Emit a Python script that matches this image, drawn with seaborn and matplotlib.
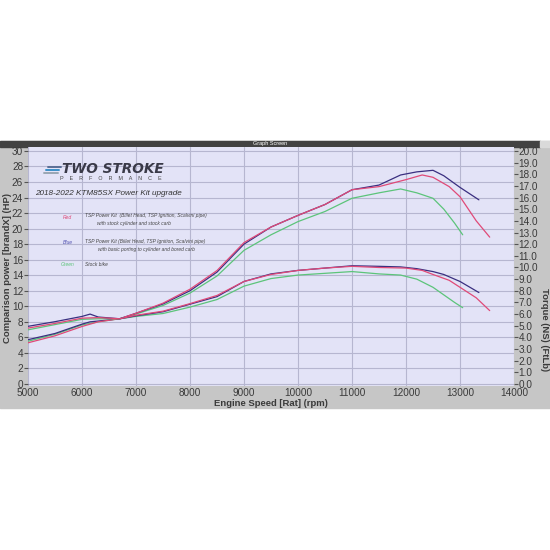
import numpy as np
import pandas as pd
import matplotlib
matplotlib.use('Agg')
import matplotlib.pyplot as plt
import seaborn as sns
from matplotlib.patches import Rectangle
from matplotlib.lines import Line2D
from matplotlib.ticker import FormatStrFormatter

# Dyno runs (power in HP, torque in ft-lb)
RPM_RED = [5000, 5500, 6000, 6300, 6700, 7000, 7500, 8000, 8500, 9000, 9500,
           10000, 10500, 11000, 11500, 12000, 12300, 12500, 12800, 13000, 13300, 13550]
HP_RED = [5.3, 6.2, 7.4, 8.0, 8.4, 9.1, 10.4, 12.2, 14.6, 18.2, 20.2,
          21.7, 23.1, 25.0, 25.4, 26.3, 26.9, 26.6, 25.4, 24.1, 21.0, 18.9]
TQ_RED = [4.8, 5.2, 5.65, 5.7, 5.6, 5.9, 6.25, 6.9, 7.6, 8.8, 9.4,
          9.75, 9.95, 10.1, 10.0, 9.95, 9.75, 9.4, 8.9, 8.3, 7.4, 6.3]

RPM_BLUE = [5000, 5500, 6000, 6150, 6300, 6700, 7000, 7500, 8000, 8500, 9000,
            9500, 10000, 10500, 11000, 11500, 11900, 12200, 12500, 12700, 13000, 13350]
HP_BLUE = [5.7, 6.5, 7.7, 8.0, 8.1, 8.4, 9.1, 10.3, 12.0, 14.4, 18.0,
           20.2, 21.7, 23.1, 25.0, 25.6, 26.9, 27.3, 27.5, 26.8, 25.3, 23.7]
TQ_BLUE = [4.95, 5.35, 5.8, 6.0, 5.75, 5.6, 5.85, 6.2, 6.85, 7.5, 8.8,
           9.45, 9.75, 9.95, 10.15, 10.1, 10.05, 9.9, 9.65, 9.4, 8.8, 7.85]

RPM_GREEN = [5000, 5500, 6000, 6300, 6700, 7000, 7500, 8000, 8500, 9000, 9500,
             10000, 10500, 11000, 11500, 11900, 12200, 12500, 12700, 12900, 13050]
HP_GREEN = [5.5, 6.4, 7.6, 8.0, 8.4, 9.0, 10.1, 11.7, 13.9, 17.2, 19.2,
            20.9, 22.2, 23.9, 24.6, 25.1, 24.6, 23.9, 22.5, 20.7, 19.2]
TQ_GREEN = [4.65, 5.1, 5.55, 5.6, 5.6, 5.8, 6.05, 6.6, 7.25, 8.4, 9.05,
            9.35, 9.5, 9.65, 9.45, 9.35, 9.0, 8.3, 7.65, 7.0, 6.55]

X_TICKS = list(range(5000, 14001, 1000))
HP_TICKS = list(range(0, 31, 2))
TQ_TICKS = list(np.arange(0, 20.1, 1.0))

COLORS = {'red': '#E04A78', 'blue': '#3A2F80', 'green': '#5CC47A'}

sns.set_style('white')
plt.rcParams['font.family'] = ['Liberation Sans', 'DejaVu Sans']

W = H = 550
fig = plt.figure(figsize=(5.5, 5.5), dpi=100)
fig.patch.set_facecolor('white')


def fx(px):
    return px / W


def fy(py):
    return 1 - py / H


# gray window panel and the title bar (behind the axes)
fig.patches.append(Rectangle((0, fy(408)), 1, fy(141) - fy(408),
                             transform=fig.transFigure, color='#C6C6C6', zorder=-10))
fig.patches.append(Rectangle((0, fy(146.5)), fx(540), fy(141) - fy(146.5),
                             transform=fig.transFigure, color='#424242', zorder=-9))
fig.patches.append(Rectangle((fx(540), fy(146.5)), fx(10), fy(141) - fy(146.5),
                             transform=fig.transFigure, color='#DADADA', zorder=-9))
fig.text(fx(270), fy(143.8), 'Graph Screen', color='white', fontsize=4,
         ha='center', va='center')

ax = fig.add_axes([fx(28), fy(386), fx(514) - fx(28), fy(147) - fy(386)])
ax.set_facecolor('#E3E3F7')
ax.set_xlim(5000, 14000)
ax.set_ylim(-0.26, 30.5)
ax.set_xticks(X_TICKS)
ax.set_yticks(HP_TICKS)
ax.grid(True, color='#B6B6D0', lw=0.8)
ax.set_axisbelow(True)
for s in ax.spines.values():
    s.set_visible(False)

ax2 = ax.twinx()
ax2.set_ylim(-0.17, 20.34)
ax2.set_yticks(TQ_TICKS)
ax2.yaxis.set_major_formatter(FormatStrFormatter('%.1f'))
for s in ax2.spines.values():
    s.set_visible(False)

runs = [
    ('green', RPM_GREEN, HP_GREEN, TQ_GREEN),
    ('blue', RPM_BLUE, HP_BLUE, TQ_BLUE),
    ('red', RPM_RED, HP_RED, TQ_RED),
]
for name, rpm, hp, tq in runs:
    df = pd.DataFrame({'rpm': rpm, 'hp': hp, 'tq': tq})
    sns.lineplot(data=df, x='rpm', y='hp', ax=ax, color=COLORS[name],
                 lw=0.9, sort=False, legend=False)
    sns.lineplot(data=df, x='rpm', y='tq', ax=ax2, color=COLORS[name],
                 lw=0.9, sort=False, legend=False)

ax.set_xlabel('')
ax.set_ylabel('')
ax2.set_ylabel('')
ax.tick_params(axis='x', length=0, pad=1.5, labelsize=7.2, labelcolor='#3A3A3A')
ax.tick_params(axis='y', length=3, width=0.8, color='#555555', pad=0.5,
               labelsize=7.2, labelcolor='#3A3A3A', left=True)
ax2.tick_params(axis='y', length=3, width=0.8, color='#555555', pad=0.3,
                labelsize=7.2, labelcolor='#3A3A3A', right=True)

# axis titles
fig.text(fx(271), fy(403), 'Engine Speed [Rat] (rpm)', fontsize=6.8,
         color='#3A3A3A', fontweight='bold', ha='center', va='center')
fig.text(fx(7.5), fy(268), 'Comparison power [brandX] (HP)', fontsize=6.8,
         color='#3A3A3A', fontweight='bold', rotation=90, ha='center', va='center')
fig.text(fx(545), fy(330), 'Torque (NS) (FtLb)', fontsize=6.8,
         color='#3A3A3A', fontweight='bold', rotation=-90, ha='center', va='center')

# logo
for (x0, x1, py, c) in [(48, 61, 167.3, '#5A6E96'), (46, 59, 170, '#3A8FC8'),
                        (44, 58, 172.7, '#9AA6B4')]:
    fig.add_artist(Line2D([fx(x0), fx(x1)], [fy(py), fy(py)], color=c, lw=1.4,
                          transform=fig.transFigure))
fig.text(fx(62), fy(169.5), 'TWO STROKE', fontsize=9.8, fontweight='heavy',
         fontstyle='italic', color='#3A3A48', ha='left', va='center',
         family=['DejaVu Sans'])
fig.text(fx(111), fy(178.5), 'P    E    R    F    O    R    M    A    N    C    E',
         fontsize=3.9, color='#444444', ha='center', va='center')
fig.text(fx(35), fy(193.5), '2018-2022 KTM85SX Power Kit upgrade', fontsize=5.9,
         fontstyle='italic', color='#333333', ha='left', va='center')

# run descriptions
desc = dict(fontsize=3.5, fontstyle='italic', color='#444444', va='center')
fig.text(fx(63), fy(217.5), 'Red', color=COLORS['red'], fontsize=3.6,
         fontstyle='italic', va='center')
fig.text(fx(85), fy(216), 'TSP Power Kit  (Billet Head, TSP Ignition, Scalvini pipe)', **desc)
fig.text(fx(97), fy(224), 'with stock cylinder and stock carb', **desc)
fig.text(fx(62.5), fy(242.5), 'Blue', color='#5050B0', fontsize=3.6,
         fontstyle='italic', va='center')
fig.text(fx(85), fy(242), 'TSP Power Kit (Billet Head, TSP Ignition, Scalvini pipe)', **desc)
fig.text(fx(98), fy(249.5), 'with basic porting to cylinder and bored carb', **desc)
fig.text(fx(60.5), fy(265), 'Green', color=COLORS['green'], fontsize=3.6,
         fontstyle='italic', va='center')
fig.text(fx(85), fy(264.5), 'Stock bike', **desc)

fig.savefig('out.png', dpi=100)
